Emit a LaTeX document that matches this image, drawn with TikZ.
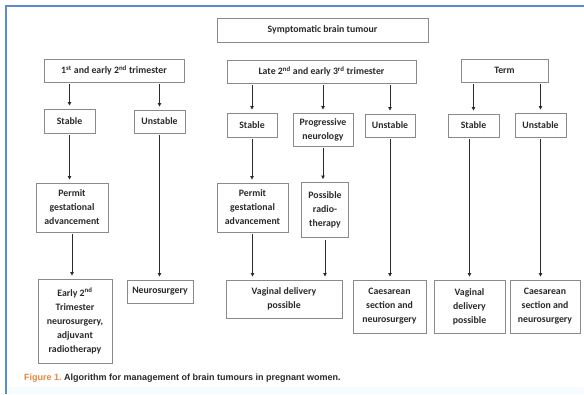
\documentclass[tikz,border=0pt]{standalone}
\usepackage{fontspec}
\setmainfont{Carlito}
\newfontfamily\capfont{Liberation Sans}
\usetikzlibrary{arrows.meta}
\definecolor{boxline}{HTML}{8A8A8A}
\definecolor{txt}{HTML}{2A2A2A}
\definecolor{frameblue}{HTML}{5B8BD0}
\definecolor{figorange}{HTML}{E8863A}
\tikzset{
  box/.style={draw=boxline, line width=0.9pt, fill=white, text=txt, font=\fontsize{9.8}{14}\selectfont\bfseries, align=center, inner sep=1pt},
  arr/.style={draw=txt, line width=0.8pt, -{Triangle[length=3.5pt,width=3.5pt]}, shorten <=2pt, shorten >=3pt}
}
\begin{document}
\begin{tikzpicture}[x=1pt,y=-1pt]
\useasboundingbox (0,0) rectangle (584,394);
\fill[white] (0,0) rectangle (584,394);
\fill[cyan!3] (6,387) rectangle (584,394);
\draw[frameblue, line width=1.5pt] (6,394) -- (6,6) -- (584,6);

% top
\node[box, minimum width=211pt, minimum height=24pt] (title) at (322.5,30) {Symptomatic brain tumour};
% tiers
\node[box, minimum width=140pt, minimum height=23pt] (t1) at (114,70.5) {1\textsuperscript{st} and early 2\textsuperscript{nd} trimester};
\node[box, minimum width=189pt, minimum height=23pt] (t2) at (321.5,71.5) {Late 2\textsuperscript{nd} and early 3\textsuperscript{rd} trimester};
\node[box, minimum width=87pt, minimum height=23pt] (t3) at (504.5,70.5) {Term};
% row 2
\node[box, minimum width=51pt, minimum height=24pt] (s1) at (69.5,121) {Stable};
\node[box, minimum width=51pt, minimum height=23pt] (u1) at (159.5,121.5) {Unstable};
\node[box, minimum width=50pt, minimum height=24pt] (s2) at (252,125) {Stable};
\node[box, minimum width=60pt, minimum height=33pt] (p2) at (323,129.5) {Progressive\\neurology};
\node[box, minimum width=50pt, minimum height=23pt] (u2) at (390,125.5) {Unstable};
\node[box, minimum width=51pt, minimum height=23pt] (s3) at (473.5,125.5) {Stable};
\node[box, minimum width=51pt, minimum height=24pt] (u3) at (540.5,125) {Unstable};
% row 3
\node[box, minimum width=72pt, minimum height=49pt] (pg1) at (72,207.5) {Permit\\gestational\\advancement};
\node[box, minimum width=71pt, minimum height=49pt] (pg2) at (252.5,207.5) {Permit\\gestational\\advancement};
\node[box, minimum width=47pt, minimum height=55pt] (rt) at (325,210) {Possible\\radio-\\therapy};
% row 4
\node[box, minimum width=74pt, minimum height=84pt] (e1) at (75,321) {Early 2\textsuperscript{nd}\\Trimester\\neurosurgery,\\adjuvant\\radiotherapy};
\node[box, minimum width=66pt, minimum height=23pt] (n1) at (160,291.5) {Neurosurgery};
\node[box, minimum width=116pt, minimum height=38pt] (vd2) at (284,299) {Vaginal delivery\\possible};
\node[box, minimum width=73pt, minimum height=53pt] (cs2) at (389.5,306.5) {Caesarean\\section and\\neurosurgery};
\node[box, minimum width=71pt, minimum height=53pt] (vd3) at (469.5,306.5) {Vaginal\\delivery\\possible};
\node[box, minimum width=70pt, minimum height=53pt] (cs3) at (545,306.5) {Caesarean\\section and\\neurosurgery};

% arrows tier -> row 2
\draw[arr] (s1.north |- t1.south) -- (s1.north);
\draw[arr] (u1.north |- t1.south) -- (u1.north);
\draw[arr] (s2.north |- t2.south) -- (s2.north);
\draw[arr] (p2.north |- t2.south) -- (p2.north);
\draw[arr] (u2.north |- t2.south) -- (u2.north);
\draw[arr] (s3.north |- t3.south) -- (s3.north);
\draw[arr] (u3.north |- t3.south) -- (u3.north);
% row 2 -> row 3 / 4
\draw[arr] (s1.south) -- (s1.south |- pg1.north);
\draw[arr] (u1.south) -- (u1.south |- n1.north);
\draw[arr] (s2.south) -- (s2.south |- pg2.north);
\draw[arr] (p2.south) -- (p2.south |- rt.north);
\draw[arr] (u2.south) -- (u2.south |- cs2.north);
\draw[arr] (vd3.north |- s3.south) -- (vd3.north);
\draw[arr] (u3.south) -- (u3.south |- cs3.north);
% row 3 -> row 4
\draw[arr] (pg1.south) -- (pg1.south |- e1.north);
\draw[arr] (pg2.south) -- (pg2.south |- vd2.north);
\draw[arr] (rt.south) -- (rt.south |- vd2.north);

% caption
\node[anchor=west, inner sep=0pt, font=\capfont\fontsize{9}{10}\selectfont\bfseries, text=txt] (cap) at (24,378)
  {\textcolor{figorange}{Figure 1.}\ Algorithm for management of brain tumours in pregnant women.};
\end{tikzpicture}
\end{document}
